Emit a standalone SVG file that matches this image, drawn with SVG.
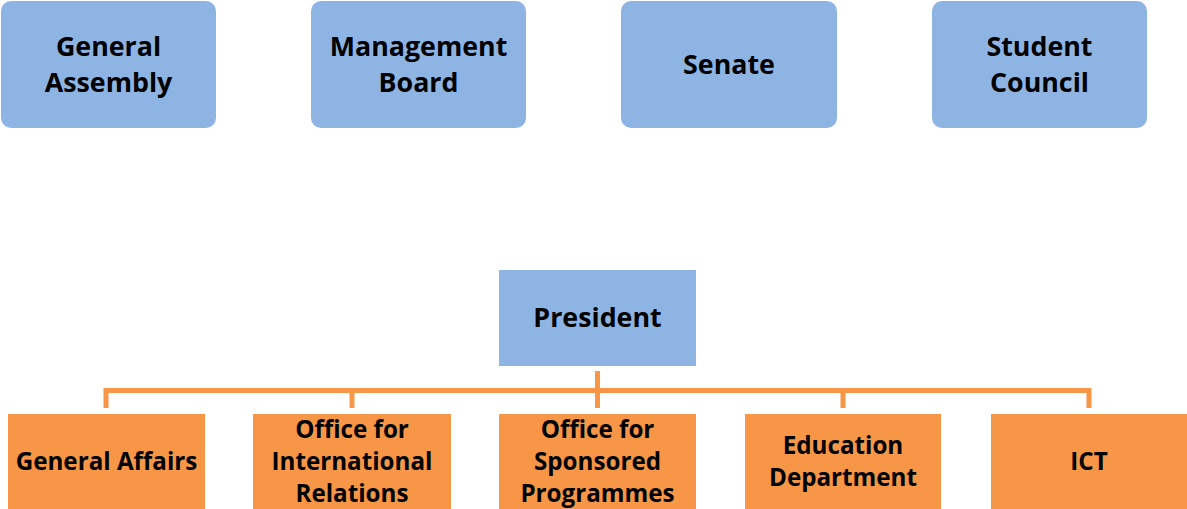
<svg xmlns="http://www.w3.org/2000/svg" width="1187" height="509" viewBox="0 0 1187 509">
<style>
.blue{fill:#8EB4E3;}
.orange{fill:#F79646;}
.t1{font-family:"Open Sans","Liberation Sans",sans-serif;font-weight:bold;font-size:26.8px;fill:#000;text-anchor:middle;}
.t2{font-family:"Open Sans","Liberation Sans",sans-serif;font-weight:bold;font-size:24.2px;fill:#000;text-anchor:middle;}
.conn{stroke:#F79646;stroke-width:5;fill:none;stroke-linecap:butt;}
</style>
<rect width="1187" height="509" fill="#fff"/>
<g id="general-assembly">
<rect class="blue" x="1" y="1" width="215" height="127" rx="10"/>
<text class="t1" x="108.5" y="55.5">General</text>
<text class="t1" x="108.5" y="91.5">Assembly</text>
</g>
<g id="management-board">
<rect class="blue" x="311" y="1" width="215" height="127" rx="10"/>
<text class="t1" x="418.5" y="55.5">Management</text>
<text class="t1" x="418.5" y="91.5">Board</text>
</g>
<g id="senate">
<rect class="blue" x="621" y="1" width="216" height="127" rx="10"/>
<text class="t1" x="729" y="73.5">Senate</text>
</g>
<g id="student-council">
<rect class="blue" x="932" y="1" width="215" height="127" rx="10"/>
<text class="t1" x="1039.5" y="55.5">Student</text>
<text class="t1" x="1039.5" y="91.5">Council</text>
</g>
<g id="connectors">
<path class="conn" d="M106 408 V390.5 H1089 V408"/>
<path class="conn" d="M352 390 V408"/>
<path class="conn" d="M843 390 V408"/>
<path class="conn" d="M597.5 371 V408"/>
</g>
<g id="president">
<rect class="blue" x="499" y="270" width="197" height="96"/>
<text class="t1" x="597.5" y="326.5">President</text>
</g>
<g id="general-affairs">
<rect class="orange" x="8" y="414" width="197" height="96"/>
<text class="t2" x="106.5" y="469.5">General Affairs</text>
</g>
<g id="international-relations">
<rect class="orange" x="253" y="414" width="198" height="96"/>
<text class="t2" x="352" y="437.5">Office for</text>
<text class="t2" x="352" y="469.5">International</text>
<text class="t2" x="352" y="501.5">Relations</text>
</g>
<g id="sponsored-programmes">
<rect class="orange" x="499" y="414" width="197" height="96"/>
<text class="t2" x="597.5" y="437.5">Office for</text>
<text class="t2" x="597.5" y="469.5">Sponsored</text>
<text class="t2" x="597.5" y="501.5">Programmes</text>
</g>
<g id="education-department">
<rect class="orange" x="745" y="414" width="196" height="96"/>
<text class="t2" x="843" y="453.5">Education</text>
<text class="t2" x="843" y="485.5">Department</text>
</g>
<g id="ict">
<rect class="orange" x="991" y="414" width="196" height="96"/>
<text class="t2" x="1089" y="469.5">ICT</text>
</g>
</svg>
